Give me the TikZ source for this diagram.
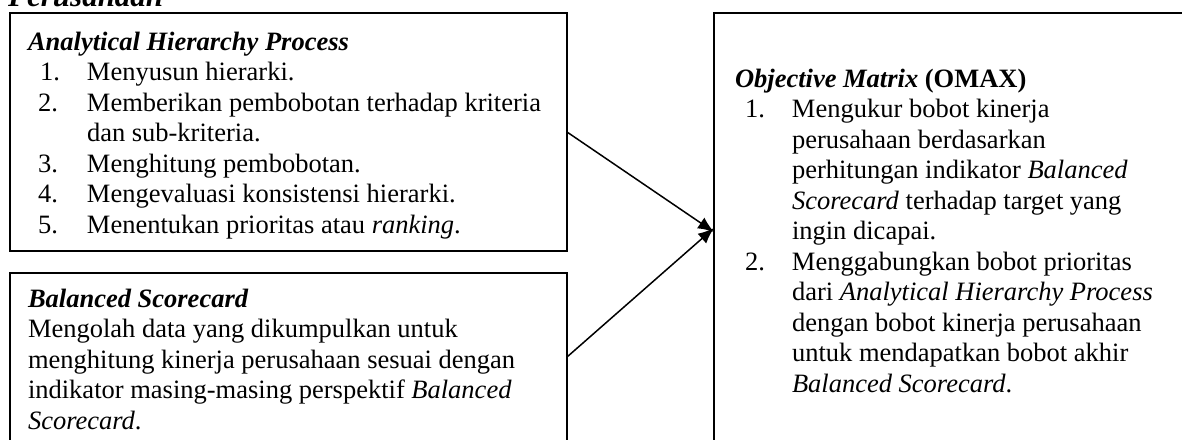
\documentclass[tikz,border=0pt]{standalone}
\usepackage{fontspec}
\setmainfont{Liberation Serif}
\usetikzlibrary{arrows.meta}
\tikzset{
  box/.style={draw, line width=2pt, rectangle, inner sep=0pt, outer sep=0pt},
  txt/.style={anchor=base west, inner sep=0pt, outer sep=0pt, font=\bodyfont},
  conn/.style={line width=1.5pt, -{Latex[length=16pt,width=13pt]}}
}
\newcommand{\bodyfont}{\fontsize{26.5}{30.5}\selectfont}
\newcommand{\num}[2]{\makebox[#1][l]{#2}}
\begin{document}
\begin{tikzpicture}[x=1pt,y=-1pt]
\useasboundingbox (0,0) rectangle (1182,439);
\clip (0,0) rectangle (1182,439);
% title (cut at top)
\node[anchor=base west, inner sep=0pt, font=\fontsize{31}{36}\selectfont\bfseries\itshape] (title) at (8,6) {Perusahaan};
% boxes
\node[box, minimum width=557pt, minimum height=238pt] (ahp) at (288.5,132) {};
\node[box, minimum width=557pt, minimum height=168pt] (bsc) at (288.5,357) {};
\node[box, minimum width=490pt, minimum height=434pt] (omax) at (959,230) {};
% AHP text
\node[txt] (ahptext) at (28,50) {\begin{tabular}[t]{@{}l@{}l@{}}
\multicolumn{2}{@{}l@{}}{\textbf{\textit{Analytical Hierarchy Process}}}\\
\hspace{12pt}\num{47pt}{1.} & Menyusun hierarki.\\
\hspace{10pt}\num{49pt}{2.} & Memberikan pembobotan terhadap kriteria\\
 & dan sub-kriteria.\\
\hspace{10pt}\num{49pt}{3.} & Menghitung pembobotan.\\
\hspace{10pt}\num{49pt}{4.} & Mengevaluasi konsistensi hierarki.\\
\hspace{10pt}\num{49pt}{5.} & Menentukan prioritas atau \textit{ranking}.
\end{tabular}};
% BSC text
\node[txt] (bsctext) at (28,307) {\begin{tabular}[t]{@{}l@{}}
\textbf{\textit{Balanced Scorecard}}\\
Mengolah data yang dikumpulkan untuk\\
menghitung kinerja perusahaan sesuai dengan\\
indikator masing-masing perspektif \textit{Balanced}\\
\textit{Scorecard}.
\end{tabular}};
% OMAX text
\node[txt] (omaxtext) at (735,87) {\begin{tabular}[t]{@{}l@{}l@{}}
\multicolumn{2}{@{}l@{}}{\textbf{\textit{Objective Matrix}} \textbf{(OMAX)}}\\
\hspace{10pt}\num{47pt}{1.} & Mengukur bobot kinerja\\
 & perusahaan berdasarkan\\
 & perhitungan indikator \textit{Balanced}\\
 & \textit{Scorecard} terhadap target yang\\
 & ingin dicapai.\\
\hspace{10pt}\num{47pt}{2.} & Menggabungkan bobot prioritas\\
 & dari \textit{Analytical Hierarchy Process}\\
 & dengan bobot kinerja perusahaan\\
 & untuk mendapatkan bobot akhir\\
 & \textit{Balanced Scorecard}.
\end{tabular}};
% connectors
\draw[conn] (ahp.east) -- ([yshift=-2pt]omax.west);
\draw[conn] (bsc.east) -- ([yshift=2pt]omax.west);
\end{tikzpicture}
\end{document}
